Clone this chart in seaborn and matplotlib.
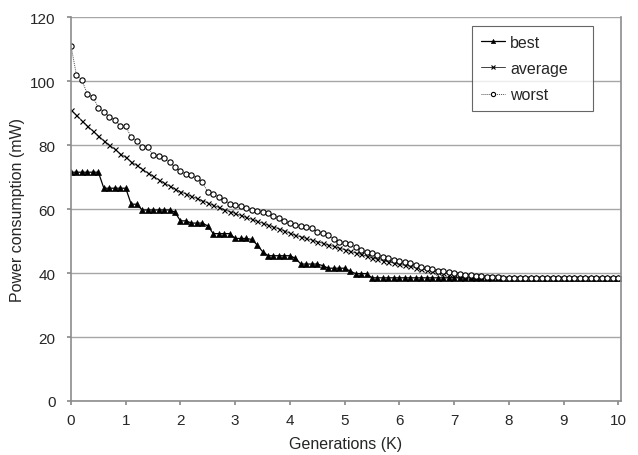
import numpy as np
import pandas as pd
import seaborn as sns
import matplotlib.pyplot as plt

# generations in thousands, one point every 100 generations
generations = [round(i * 0.1, 1) for i in range(101)]

best = [
    71.5, 71.5, 71.5, 71.5, 71.5, 71.5, 66.5, 66.5, 66.5, 66.5,
    66.5, 61.5, 61.5, 59.7, 59.7, 59.7, 59.7, 59.7, 59.7, 59.0,
    56.3, 56.3, 55.6, 55.6, 55.6, 54.7, 52.3, 52.3, 52.3, 52.3,
    50.8, 50.8, 50.8, 50.5, 48.8, 46.7, 45.4, 45.4, 45.4, 45.4,
    45.4, 44.6, 42.8, 42.8, 42.8, 42.8, 42.3, 41.5, 41.5, 41.5,
    41.5, 40.6, 39.8, 39.8, 39.8, 38.5, 38.5, 38.5, 38.5, 38.5,
    38.5, 38.5, 38.5, 38.5, 38.5, 38.5, 38.5, 38.5, 38.5, 38.5,
    38.5, 38.5, 38.5, 38.5, 38.5, 38.5, 38.5, 38.5, 38.5, 38.5,
    38.5, 38.5, 38.5, 38.5, 38.5, 38.5, 38.5, 38.5, 38.5, 38.5,
    38.5, 38.5, 38.5, 38.5, 38.5, 38.5, 38.5, 38.5, 38.5, 38.5,
    38.5,
]

average = [
    91.0, 89.3, 87.6, 86.0, 84.4, 82.9, 81.4, 80.0, 78.7, 77.3,
    76.1, 74.8, 73.6, 72.5, 71.3, 70.3, 69.2, 68.2, 67.2, 66.3,
    65.4, 64.7, 64.0, 63.3, 62.6, 61.9, 61.2, 60.5, 59.8, 59.2,
    58.6, 58.0, 57.4, 56.8, 56.2, 55.6, 55.0, 54.4, 53.8, 53.2,
    52.4, 51.8, 51.3, 50.8, 50.3, 49.8, 49.3, 48.8, 48.3, 47.8,
    47.3, 46.8, 46.3, 45.8, 45.3, 44.8, 44.3, 43.9, 43.5, 43.1,
    42.7, 42.4, 42.1, 41.7, 41.4, 41.0, 40.7, 40.4, 40.1, 39.8,
    39.6, 39.4, 39.2, 39.0, 38.9, 38.8, 38.7, 38.6, 38.6, 38.5,
    38.5, 38.5, 38.5, 38.5, 38.5, 38.5, 38.5, 38.5, 38.5, 38.5,
    38.5, 38.5, 38.5, 38.5, 38.5, 38.5, 38.5, 38.5, 38.5, 38.5,
    38.5,
]

worst = [
    111.0, 101.8, 100.2, 95.9, 95.0, 91.7, 90.4, 88.9, 87.8, 86.0,
    85.8, 82.4, 81.4, 79.3, 79.4, 76.9, 76.5, 75.9, 74.6, 73.1,
    72.0, 71.0, 70.7, 69.8, 68.4, 65.3, 64.8, 63.8, 62.9, 61.7,
    61.2, 60.9, 60.2, 59.6, 59.3, 59.1, 58.6, 57.9, 57.2, 56.2,
    55.7, 55.0, 54.8, 54.4, 54.1, 52.9, 52.6, 51.9, 50.5, 49.8,
    49.5, 49.2, 48.2, 47.2, 46.6, 46.3, 45.7, 45.1, 44.6, 44.1,
    43.6, 43.3, 43.1, 42.5, 42.0, 41.5, 41.2, 40.7, 40.5, 40.2,
    40.0, 39.7, 39.5, 39.3, 39.2, 39.0, 38.8, 38.7, 38.6, 38.5,
    38.5, 38.5, 38.5, 38.5, 38.5, 38.5, 38.5, 38.5, 38.5, 38.5,
    38.5, 38.5, 38.5, 38.5, 38.5, 38.5, 38.5, 38.5, 38.5, 38.5,
    38.5,
]

x_ticks = list(range(0, 11))
y_ticks = list(range(0, 121, 20))

sns.set_theme(style="white")
plt.rcParams['font.family'] = ['Liberation Sans', 'DejaVu Sans']

fig = plt.figure(figsize=(6.38, 4.56), dpi=100)
ax = fig.add_axes([71 / 638, 54 / 456, 550 / 638, 384 / 456])

sns.lineplot(x=generations, y=best, ax=ax, color="black", linewidth=0.9,
             marker="^", markersize=3.8, markeredgewidth=0.5,
             markerfacecolor="black", markeredgecolor="black", label="best")
sns.lineplot(x=generations, y=average, ax=ax, color="#404040", linewidth=0.7,
             marker="x", markersize=3.6, markeredgewidth=0.8,
             markeredgecolor="black", label="average")
sns.lineplot(x=generations, y=worst, ax=ax, color="#505050", linewidth=0.7,
             linestyle=(0, (1, 1)), marker="o", markersize=3.8,
             markeredgewidth=0.8, markerfacecolor="white",
             markeredgecolor="black", label="worst")

ax.set_xlim(0, 10.05)
ax.set_ylim(0, 120)
ax.set_xticks(x_ticks)
ax.set_yticks(y_ticks)
ax.yaxis.grid(True, color="#a6a6a6", linewidth=1.0)
ax.set_axisbelow(True)
for side in ["left", "bottom", "right"]:
    ax.spines[side].set_visible(True)
    ax.spines[side].set_color("#8c8c8c")
    ax.spines[side].set_linewidth(1.2)
ax.spines["top"].set_visible(False)

ax.tick_params(axis="both", which="major", labelsize=11, length=3,
               color="#8c8c8c", direction="out", bottom=True, left=True)
ax.tick_params(axis="x", pad=6)
ax.tick_params(axis="y", pad=8)
ax.set_xlabel("Generations (K)", fontsize=11.5, labelpad=6)
ax.set_ylabel("Power consumption (mW)", fontsize=11.5, labelpad=4)

# legend box spans roughly x 472-593 px, top at 27 px
leg_h = 0.05
leg = ax.legend(loc="upper left",
                bbox_to_anchor=(401 / 550, 1 - 9 / 384 - leg_h, 121 / 550, leg_h),
                mode="expand", frameon=True, fancybox=False, fontsize=11.5,
                handlelength=1.5, handletextpad=0.35, borderpad=0.55,
                labelspacing=0.7, borderaxespad=0, markerscale=0.8)
leg.get_frame().set_edgecolor("#404040")
leg.get_frame().set_linewidth(0.8)

fig.savefig("out.png", dpi=100)
